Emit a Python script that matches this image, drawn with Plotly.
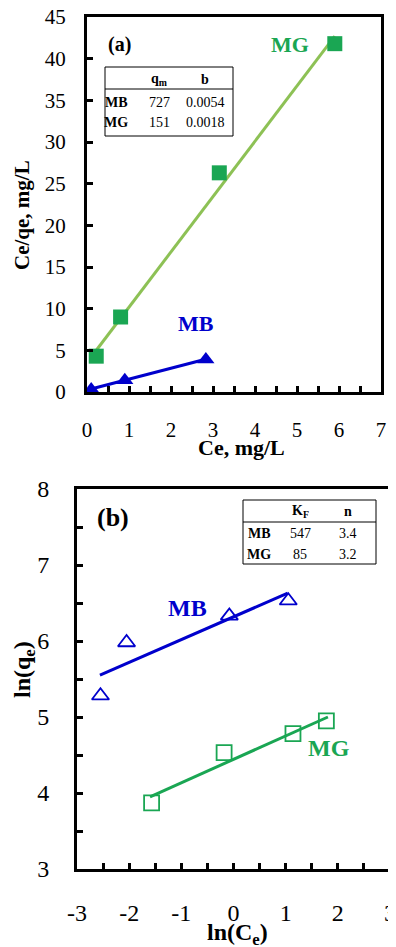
import plotly.graph_objects as go

# ---- Panel (a): Langmuir ----
mg_a_x = [0.22, 0.80, 3.15, 5.90]
mg_a_y = [4.3, 9.0, 26.3, 41.8]
mg_a_fit_x = [0.19, 5.90]
mg_a_fit_y = [4.8, 42.7]
mb_a_x = [0.10, 0.90, 2.83]
mb_a_y = [0.3, 1.4, 3.9]
mb_a_fit_x = [0.05, 2.80]
mb_a_fit_y = [0.3, 3.9]

# ---- Panel (b): Freundlich ----
mb_b_x = [-2.55, -2.05, -0.08, 1.05]
mb_b_y = [5.28, 5.98, 6.33, 6.53]
mb_b_fit_x = [-2.56, 1.04]
mb_b_fit_y = [5.55, 6.63]
mg_b_x = [-1.57, -0.18, 1.14, 1.78]
mg_b_y = [3.87, 4.53, 4.78, 4.95]
mg_b_fit_x = [-1.60, 1.81]
mg_b_fit_y = [3.95, 5.00]

xb_tickvals = [-3, -2, -1, 0, 1, 2, 3]
xb_ticktext = ["-3", "-2", "-1", "0", "1", "2", "3"]

table_a_cols = ["q<sub>m</sub>", "b"]
table_a_rows = ["MB", "MG"]
table_a_vals = [["727", "0.0054"], ["151", "0.0018"]]
table_b_cols = ["K<sub>F</sub>", "n"]
table_b_rows = ["MB", "MG"]
table_b_vals = [["547", "3.4"], ["85", "3.2"]]

OFF = 8  # page body margin
W, H = 396 - OFF, 947 - OFF
GREEN = "#1aa653"
LGREEN = "#8dc155"
BLUE = "#0000cc"
FONT = "Liberation Serif"

def px(x):
    return (x - OFF) / W

def py(y):
    return 1 - (y - OFF) / H

fig = go.Figure()

# panel a traces
fig.add_trace(go.Scatter(x=mg_a_fit_x, y=mg_a_fit_y, mode="lines",
                         line=dict(color=LGREEN, width=3), xaxis="x", yaxis="y"))
fig.add_trace(go.Scatter(x=mg_a_x, y=mg_a_y, mode="markers",
                         marker=dict(symbol="square", size=15, color=GREEN), xaxis="x", yaxis="y"))
fig.add_trace(go.Scatter(x=mb_a_fit_x, y=mb_a_fit_y, mode="lines",
                         line=dict(color=BLUE, width=3), xaxis="x", yaxis="y"))
fig.add_trace(go.Scatter(x=mb_a_x, y=mb_a_y, mode="markers",
                         marker=dict(symbol="triangle-up", size=15, color=BLUE), xaxis="x", yaxis="y"))

# panel b traces
fig.add_trace(go.Scatter(x=mb_b_fit_x, y=mb_b_fit_y, mode="lines",
                         line=dict(color=BLUE, width=3), xaxis="x2", yaxis="y2"))
fig.add_trace(go.Scatter(x=mb_b_x, y=mb_b_y, mode="markers",
                         marker=dict(symbol="triangle-up-open", size=15, color=BLUE,
                                     line=dict(width=1.8, color=BLUE)), xaxis="x2", yaxis="y2"))
fig.add_trace(go.Scatter(x=mg_b_fit_x, y=mg_b_fit_y, mode="lines",
                         line=dict(color=GREEN, width=3), xaxis="x2", yaxis="y2"))
fig.add_trace(go.Scatter(x=mg_b_x, y=mg_b_y, mode="markers",
                         marker=dict(symbol="square-open", size=15, color=GREEN,
                                     line=dict(width=1.8, color=GREEN)), xaxis="x2", yaxis="y2"))

axis_common = dict(showgrid=False, zeroline=False, showline=True, linecolor="black",
                   linewidth=3, mirror=True, ticks="inside", tickwidth=2.5, ticklen=6,
                   tickcolor="black", automargin=False, ticklabeloverflow="allow")
minor = dict(dtick=0.5, ticks="inside", ticklen=6, tickwidth=2.5, tickcolor="black")

fig.update_layout(
    width=W, height=H, margin=dict(l=0, r=0, t=0, b=0, autoexpand=False),
    paper_bgcolor="white", plot_bgcolor="white", showlegend=False,
    font=dict(family=FONT, color="black"),
    xaxis=dict(domain=[px(87), px(381)], range=[0, 7], dtick=1, anchor="y",
               tickfont=dict(size=21, family=FONT, color="black"), ticklabelstandoff=17,
               minor=minor, **axis_common),
    yaxis=dict(domain=[py(392), py(17)], range=[0, 45], dtick=5, anchor="x",
               tickfont=dict(size=21, family=FONT, color="black"), ticklabelstandoff=14,
               **axis_common),
    xaxis2=dict(domain=[px(77), px(390)], range=[-3, 3], tickmode="array",
                tickvals=xb_tickvals, ticktext=xb_ticktext, anchor="y2",
                tickfont=dict(size=24, family=FONT, color="black"), ticklabelstandoff=20,
                minor=minor, **axis_common),
    yaxis2=dict(domain=[py(869), py(489)], range=[3, 8], dtick=1, anchor="x2",
                tickfont=dict(size=24, family=FONT, color="black"), ticklabelstandoff=20,
                minor=minor, **axis_common),
)

ann = []
def A(x, y, text, size, color="black", bold=False, angle=0, xanchor="center"):
    t = f"<b>{text}</b>" if bold else text
    ann.append(dict(x=px(x), y=py(y), xref="paper", yref="paper", text=t, showarrow=False,
                    font=dict(size=size, color=color, family=FONT), textangle=angle,
                    xanchor=xanchor, yanchor="middle"))

# axis titles
A(241, 448, "Ce, mg/L", 22, bold=True)
A(22, 215, "Ce/qe, mg/L", 21, bold=True, angle=-90)
A(237, 934, "ln(C<sub>e</sub>)", 24, bold=True)
A(24, 670, "ln(q<sub>e</sub>)", 24, bold=True, angle=-90)

# panel labels
A(119, 44, "(a)", 20, bold=True)
A(113, 518, "(b)", 26, bold=True)
A(290, 45, "MG", 22, color=GREEN, bold=True)
A(196, 323, "MB", 22, color=BLUE, bold=True)
A(187, 608, "MB", 24, color=BLUE, bold=True)
A(329, 748, "MG", 24, color=GREEN, bold=True)

shapes = []
def table(x0, x1, y0, y1, yline, colx, rowx, rowy, cols, rows, vals):
    shapes.append(dict(type="rect", xref="paper", yref="paper", x0=px(x0), x1=px(x1),
                       y0=py(y1), y1=py(y0), line=dict(color="black", width=1),
                       fillcolor="white"))
    shapes.append(dict(type="line", xref="paper", yref="paper", x0=px(x0), x1=px(x1),
                       y0=py(yline), y1=py(yline), line=dict(color="black", width=1)))
    for c, cx in zip(cols, colx):
        A(cx, rowy[0], c, 14, bold=True)
    for r, ry, rv in zip(rows, rowy[1:], vals):
        A(rowx, ry, r, 14, bold=True)
        for v, cx in zip(rv, colx):
            A(cx, ry, v, 14)

table(105, 233, 67, 136, 89, [159, 205], 116, [79, 102, 123],
      table_a_cols, table_a_rows, table_a_vals)
table(243, 376, 500, 564, 522, [300, 348], 259, [511, 533, 554],
      table_b_cols, table_b_rows, table_b_vals)

fig.update_layout(annotations=ann, shapes=shapes)
fig.write_html("out.html")
